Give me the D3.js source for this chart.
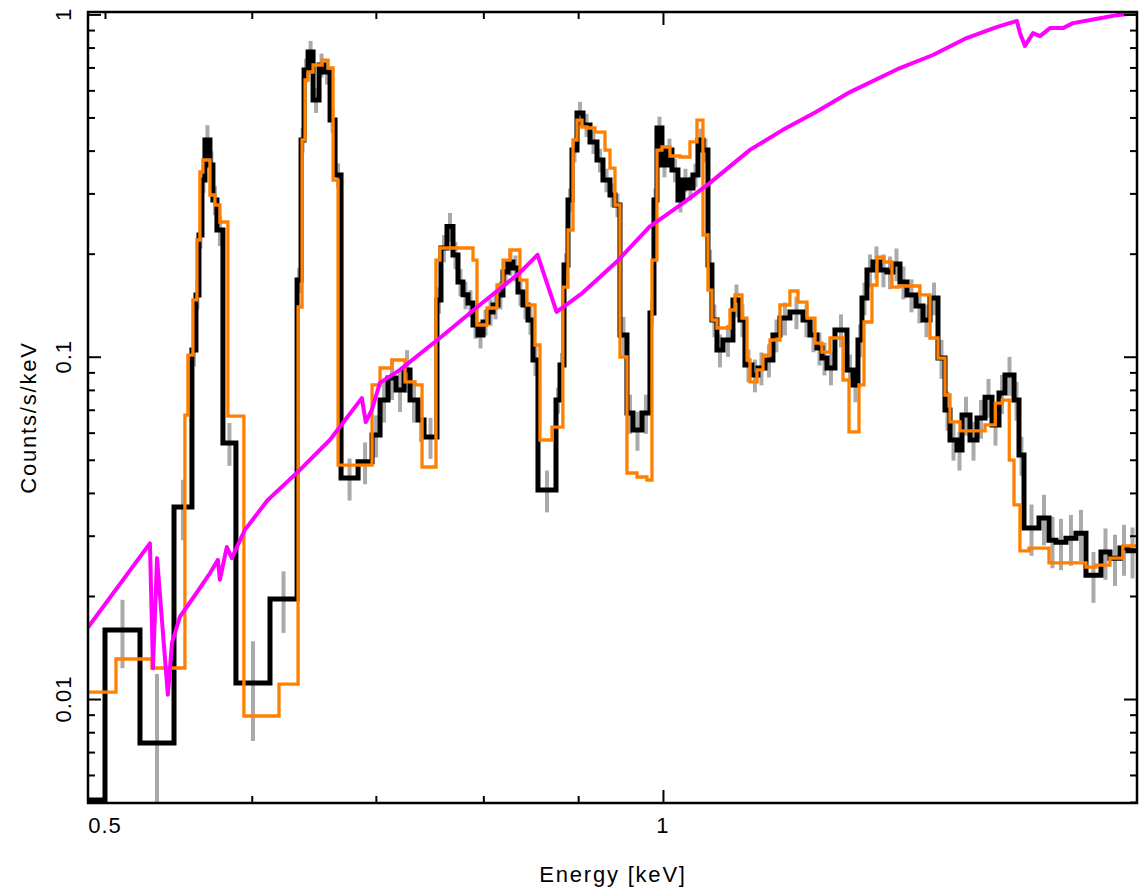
<!DOCTYPE html>
<html>
<head>
<meta charset="utf-8">
<script src="https://cdn.jsdelivr.net/npm/d3@7"></script>
<style>
  html, body { margin: 0; padding: 0; background: #fff; }
  svg { display: block; }
  text { font-family: "Liberation Sans", Arial, sans-serif; fill: #000; }
</style>
</head>
<body>
<svg id="chart" width="1142" height="890"></svg>
<script>
// spectrum data: counts/s/keV in energy bins (keV)
const dataEdges = [0.48955, 0.50000, 0.52221, 0.54475, 0.55703, 0.55981, 0.56190, 0.56400, 0.56610, 0.56962,
  0.57175, 0.57460, 0.57889, 0.58831, 0.61374, 0.63474, 0.63789, 0.64028, 0.64347, 0.64748,
  0.65231, 0.65638, 0.66129, 0.66541, 0.67038, 0.68471, 0.69671, 0.70366, 0.71068, 0.71777,
  0.72494, 0.73037, 0.73766, 0.74318, 0.75522, 0.75898, 0.76467, 0.77040, 0.77519, 0.78003,
  0.78489, 0.78979, 0.79470, 0.79966, 0.80464, 0.80966, 0.81468, 0.81976, 0.82487, 0.83001,
  0.83518, 0.84038, 0.84562, 0.85089, 0.85618, 0.87557, 0.87993, 0.88432, 0.88872, 0.89315,
  0.89871, 0.90544, 0.91334, 0.92131, 0.92819, 0.93632, 0.94212, 0.94799, 0.95627, 0.96343,
  0.97425, 0.98398, 0.98888, 0.99258, 0.99876, 1.00498, 1.01124, 1.01881, 1.02515, 1.03154,
  1.03796, 1.04444, 1.05094, 1.05749, 1.06274, 1.06937, 1.07738, 1.09083, 1.10037, 1.10724,
  1.11688, 1.12524, 1.13507, 1.14640, 1.15641, 1.17085, 1.19000, 1.20035, 1.21083, 1.21838,
  1.22598, 1.23821, 1.25683, 1.26621, 1.27411, 1.28046, 1.28845, 1.29807, 1.30941, 1.32084,
  1.33073, 1.34235, 1.35409, 1.36930, 1.38128, 1.39337, 1.40728, 1.41959, 1.42842, 1.44092,
  1.44990, 1.46437, 1.47717, 1.49194, 1.50494, 1.51808, 1.52945, 1.54663, 1.55627, 1.56597,
  1.59543, 1.61534, 1.62943, 1.64977, 1.67039, 1.69128, 1.72311, 1.74250, 1.76428, 1.78191,
  1.80197];

const dataRate = [0.00507, 0.0159, 0.00744, 0.0364, 0.1046, 0.1515, 0.2268, 0.3282, 0.4297, 0.3631,
  0.2870, 0.2345, 0.0560, 0.01114, 0.0196, 0.1675, 0.4297, 0.6880, 0.7767, 0.5623,
  0.7116, 0.6788, 0.4914, 0.3394, 0.0442, 0.0493, 0.0591, 0.0747, 0.0867, 0.0799,
  0.0915, 0.0747, 0.0653, 0.0583, 0.1465, 0.2078, 0.2400, 0.1982, 0.1653, 0.1516,
  0.1435, 0.1238, 0.1157, 0.1263, 0.1351, 0.1416, 0.1515, 0.1768, 0.1891, 0.1816,
  0.1546, 0.1416, 0.1280, 0.0978, 0.0408, 0.0747, 0.0946, 0.1853, 0.2870, 0.4016,
  0.5152, 0.4752, 0.4240, 0.3755, 0.3282, 0.2968, 0.2775, 0.1157, 0.0685, 0.0611,
  0.0685, 0.1342, 0.2870, 0.4657, 0.3631, 0.4016, 0.3512, 0.2870, 0.3282, 0.3111,
  0.3394, 0.4297, 0.4016, 0.1853, 0.1280, 0.1046, 0.1119, 0.1465, 0.1280, 0.0946,
  0.0884, 0.0927, 0.0978, 0.1157, 0.1297, 0.1351, 0.1280, 0.1157, 0.1060, 0.0991,
  0.0927, 0.1197, 0.0915, 0.0827, 0.1119, 0.1484, 0.1792, 0.1891, 0.1792, 0.1768,
  0.1866, 0.1653, 0.1515, 0.1406, 0.1280, 0.1484, 0.0991, 0.0699, 0.0571, 0.0534,
  0.0676, 0.0571, 0.0662, 0.0762, 0.0632, 0.0783, 0.0884, 0.0747, 0.0516, 0.0316,
  0.0338, 0.0291, 0.0287, 0.0295, 0.0305, 0.0230, 0.0269, 0.0258, 0.0276, 0.0271];

const dataErr = [0, 0.0036, 0.0044, 0.0073, 0.011, 0.014, 0.020, 0.027, 0.045, 0.035,
  0.028, 0.024, 0.008, 0.0036, 0.0040, 0.014, 0.035, 0.055, 0.060, 0.047,
  0.057, 0.055, 0.040, 0.028, 0.0062, 0.0069, 0.0083, 0.0105, 0.012, 0.011,
  0.013, 0.0105, 0.009, 0.008, 0.013, 0.019, 0.023, 0.018, 0.015, 0.014,
  0.013, 0.011, 0.010, 0.011, 0.012, 0.013, 0.014, 0.016, 0.017, 0.016,
  0.014, 0.013, 0.012, 0.010, 0.0057, 0.0065, 0.008, 0.015, 0.023, 0.032,
  0.040, 0.037, 0.033, 0.030, 0.026, 0.024, 0.022, 0.015, 0.009, 0.008,
  0.009, 0.011, 0.023, 0.037, 0.029, 0.032, 0.028, 0.023, 0.026, 0.025,
  0.027, 0.034, 0.032, 0.020, 0.014, 0.0115, 0.012, 0.016, 0.014, 0.0104,
  0.0097, 0.0102, 0.0108, 0.0127, 0.0143, 0.0148, 0.014, 0.0127, 0.0117, 0.0109,
  0.0102, 0.0132, 0.010, 0.0091, 0.0123, 0.0163, 0.0197, 0.0208, 0.0197, 0.0194,
  0.0205, 0.0182, 0.0167, 0.0155, 0.014, 0.0163, 0.0129, 0.0091, 0.0074, 0.0069,
  0.0088, 0.0074, 0.0086, 0.0099, 0.0082, 0.0102, 0.0115, 0.0097, 0.0067, 0.0054,
  0.0057, 0.0050, 0.0049, 0.0050, 0.0052, 0.0039, 0.0046, 0.0044, 0.0047, 0.0046];

// folded model
const modelEdges = [0.48955, 0.50687, 0.52999, 0.55219, 0.55425, 0.55770, 0.56048, 0.56258, 0.56468, 0.56962,
  0.57315, 0.57672, 0.58247, 0.59417, 0.62064, 0.63553, 0.63868, 0.64107, 0.64347, 0.64748,
  0.65475, 0.65966, 0.66377, 0.66791, 0.69671, 0.70366, 0.71423, 0.72584, 0.73493, 0.74134,
  0.75430, 0.75804, 0.78979, 0.79372, 0.80363, 0.81367, 0.81976, 0.82689, 0.83721, 0.84454,
  0.85301, 0.85832, 0.87124, 0.88307, 0.88872, 0.89426, 0.89871, 0.90432, 0.90996, 0.91906,
  0.93050, 0.93632, 0.94212, 0.94799, 0.95627, 0.96820, 0.98032, 0.98643, 0.99258, 0.99876,
  1.00873, 1.02134, 1.03410, 1.04314, 1.05094, 1.05749, 1.06274, 1.06937, 1.08681, 1.09358,
  1.10315, 1.11005, 1.11419, 1.12391, 1.13234, 1.14224, 1.15641, 1.17085, 1.18263, 1.19593,
  1.20789, 1.21838, 1.23061, 1.25065, 1.25999, 1.27574, 1.28368, 1.29649, 1.30457, 1.31596,
  1.32909, 1.34069, 1.37607, 1.39337, 1.40728, 1.41959, 1.42842, 1.44628, 1.49194, 1.51108,
  1.52428, 1.53758, 1.54663, 1.55812, 1.57563, 1.61534, 1.69128, 1.71220, 1.74250, 1.77050,
  1.80197];

const modelRate = [0.01048, 0.01309, 0.01232, 0.0675, 0.1011, 0.1465, 0.2193, 0.3464, 0.3755, 0.2968,
  0.2775, 0.2475, 0.0671, 0.00892, 0.01106, 0.1397, 0.4297, 0.6432, 0.6788, 0.7116,
  0.7357, 0.6973, 0.3282, 0.04826, 0.0827, 0.0927, 0.0978, 0.0844, 0.0827, 0.04762,
  0.1916, 0.2078, 0.1916, 0.1238, 0.1388, 0.1620, 0.1916, 0.2050, 0.1675, 0.1416,
  0.1082, 0.0571, 0.0623, 0.1598, 0.2345, 0.4297, 0.4914, 0.4689, 0.4657, 0.4533,
  0.4016, 0.3558, 0.2775, 0.0998, 0.04574, 0.04453, 0.04364, 0.1916, 0.4016, 0.4099,
  0.3858, 0.3832, 0.4240, 0.4914, 0.2268, 0.1566, 0.1280, 0.1213, 0.1369, 0.1515,
  0.1297, 0.0978, 0.0844, 0.0915, 0.1011, 0.1119, 0.1416, 0.1556, 0.1444, 0.1297,
  0.1096, 0.1032, 0.1134, 0.0855, 0.0603, 0.0827, 0.1263, 0.1620, 0.1955, 0.1891,
  0.1598, 0.1609, 0.1515, 0.1134, 0.0991, 0.0773, 0.0645, 0.0607, 0.0632, 0.0732,
  0.0747, 0.0499, 0.0369, 0.0271, 0.0276, 0.0250, 0.0243, 0.0246, 0.0258, 0.0280];

// smooth curve (magenta)
const curveEnergy = [0.4896, 0.5287, 0.5307, 0.5334, 0.5406, 0.5434, 0.5488, 0.5591, 0.5696, 0.5753,
  0.5767, 0.5817, 0.5853, 0.5949, 0.6119, 0.6370, 0.6611, 0.6879, 0.6913, 0.6965,
  0.7035, 0.7212, 0.7579, 0.7964, 0.8369, 0.8557, 0.8762, 0.9050, 0.9441, 0.9836,
  1.0253, 1.0601, 1.1141, 1.1607, 1.2094, 1.2615, 1.3423, 1.3985, 1.4582, 1.5134,
  1.5522, 1.5581, 1.5678, 1.5836, 1.5973, 1.6173, 1.6436, 1.6642, 1.7209, 1.7576,
  1.8020];
const curveValue = [0.0162, 0.0285, 0.0123, 0.0258, 0.0103, 0.0146, 0.0174, 0.0201, 0.0233, 0.0255,
  0.0223, 0.0278, 0.0258, 0.0312, 0.0381, 0.0467, 0.0571, 0.0757, 0.0644, 0.0699,
  0.0839, 0.0915, 0.1134, 0.1416, 0.1757, 0.1985, 0.1352, 0.1537, 0.1894, 0.240,
  0.281, 0.322, 0.402, 0.460, 0.519, 0.593, 0.697, 0.761, 0.853, 0.918,
  0.957, 0.882, 0.809, 0.882, 0.864, 0.912, 0.912, 0.943, 0.975, 0.995,
  1.010];

const xMinorTicks = [0.5, 0.6, 0.7, 0.8, 0.9];
const xMajorTicks = [1];
const xTickLabels = [0.5, 1];
const yMajorTicks = [0.01, 0.1, 1];
const yMinorTicks = [0.005, 0.006, 0.007, 0.008, 0.009, 0.02, 0.03, 0.04, 0.05, 0.06, 0.07, 0.08, 0.09,
  0.2, 0.3, 0.4, 0.5, 0.6, 0.7, 0.8, 0.9];
const yTickLabels = ["0.01", "0.1", "1"];

const plotLeft = 88, plotRight = 1137, plotTop = 12, plotBottom = 803;

const x = d3.scaleLog().domain([0.48955, 1.80197]).range([plotLeft, plotRight]);
const y = d3.scaleLog().domain([0.004969, 1.0163]).range([plotBottom, plotTop]);

const svg = d3.select("#chart");

svg.append("defs").append("clipPath").attr("id", "plot-clip")
  .append("rect")
  .attr("x", plotLeft).attr("y", plotTop)
  .attr("width", plotRight - plotLeft).attr("height", plotBottom - plotTop);

const plot = svg.append("g").attr("clip-path", "url(#plot-clip)");

function stepPoints(edges, rates) {
  const pts = [];
  const n = Math.min(edges.length - 1, rates.length);
  for (let i = 0; i < n; i++) {
    pts.push([edges[i], rates[i]]);
    pts.push([edges[i + 1], rates[i]]);
  }
  return pts;
}

const line = d3.line()
  .x(d => x(d[0]))
  .y(d => y(d[1]));

// error bars
const bins = dataRate.map((v, i) => ({
  e: Math.sqrt(dataEdges[i] * dataEdges[i + 1]),
  v: v,
  err: dataErr[i]
})).filter(d => d.err > 0);

plot.selectAll("line.err")
  .data(bins)
  .enter()
  .append("line")
  .attr("class", "err")
  .attr("x1", d => x(d.e))
  .attr("x2", d => x(d.e))
  .attr("y1", d => d.v - d.err > 0 ? y(d.v - d.err) : plotBottom + 10)
  .attr("y2", d => y(d.v + d.err))
  .style("stroke", "#aaaaaa")
  .style("stroke-width", "4px");

plot.append("path")
  .attr("d", line(stepPoints(dataEdges, dataRate)))
  .style("fill", "none")
  .style("stroke", "#000")
  .style("stroke-width", "5px")
  .style("stroke-linejoin", "miter");

plot.append("path")
  .attr("d", line(stepPoints(modelEdges, modelRate)))
  .style("fill", "none")
  .style("stroke", "#ff8000")
  .style("stroke-width", "3.3px");

plot.append("path")
  .attr("d", line(curveEnergy.map((e, i) => [e, curveValue[i]])))
  .style("fill", "none")
  .style("stroke", "#ff00ff")
  .style("stroke-width", "4px")
  .style("stroke-linejoin", "round");

// axes, ticks pointing inward
function styleAxis(g) {
  g.select(".domain").remove();
  g.selectAll(".tick line").style("stroke", "#000").style("stroke-width", "2px");
  g.selectAll(".tick text").remove();
}

svg.append("g").attr("transform", `translate(0,${plotBottom})`)
  .call(d3.axisBottom(x).tickValues(xMinorTicks).tickSize(-7)).call(styleAxis);
svg.append("g").attr("transform", `translate(0,${plotBottom})`)
  .call(d3.axisBottom(x).tickValues(xMajorTicks).tickSize(-13)).call(styleAxis);
svg.append("g").attr("transform", `translate(0,${plotTop})`)
  .call(d3.axisTop(x).tickValues(xMinorTicks).tickSize(-7)).call(styleAxis);
svg.append("g").attr("transform", `translate(0,${plotTop})`)
  .call(d3.axisTop(x).tickValues(xMajorTicks).tickSize(-13)).call(styleAxis);

svg.append("g").attr("transform", `translate(${plotLeft},0)`)
  .call(d3.axisLeft(y).tickValues(yMinorTicks).tickSize(-7)).call(styleAxis);
svg.append("g").attr("transform", `translate(${plotLeft},0)`)
  .call(d3.axisLeft(y).tickValues(yMajorTicks).tickSize(-13)).call(styleAxis);
svg.append("g").attr("transform", `translate(${plotRight},0)`)
  .call(d3.axisRight(y).tickValues(yMinorTicks).tickSize(-7)).call(styleAxis);
svg.append("g").attr("transform", `translate(${plotRight},0)`)
  .call(d3.axisRight(y).tickValues(yMajorTicks).tickSize(-13)).call(styleAxis);

svg.append("rect")
  .attr("x", plotLeft).attr("y", plotTop)
  .attr("width", plotRight - plotLeft).attr("height", plotBottom - plotTop)
  .style("fill", "none")
  .style("stroke", "#000")
  .style("stroke-width", "2.5px");

// tick labels
svg.selectAll("text.xlab")
  .data(xTickLabels)
  .enter()
  .append("text")
  .attr("class", "xlab")
  .attr("x", d => x(d))
  .attr("y", 833)
  .attr("text-anchor", "middle")
  .style("font-size", "22px")
  .style("letter-spacing", "1px")
  .text(d => String(d));

svg.selectAll("text.ylab")
  .data(yMajorTicks)
  .enter()
  .append("text")
  .attr("class", "ylab")
  .attr("transform", d => `translate(71,${y(d)}) rotate(-90)`)
  .attr("text-anchor", "middle")
  .style("font-size", "22px")
  .style("letter-spacing", "1px")
  .text((d, i) => yTickLabels[i]);

svg.append("text")
  .attr("x", 613)
  .attr("y", 882)
  .attr("text-anchor", "middle")
  .style("font-size", "22px")
  .style("letter-spacing", "1.8px")
  .text("Energy [keV]");

svg.append("text")
  .attr("transform", `translate(36,${(plotTop + plotBottom) / 2 + 10}) rotate(-90)`)
  .attr("text-anchor", "middle")
  .style("font-size", "22px")
  .style("letter-spacing", "1.8px")
  .text("Counts/s/keV");
</script>
</body>
</html>
